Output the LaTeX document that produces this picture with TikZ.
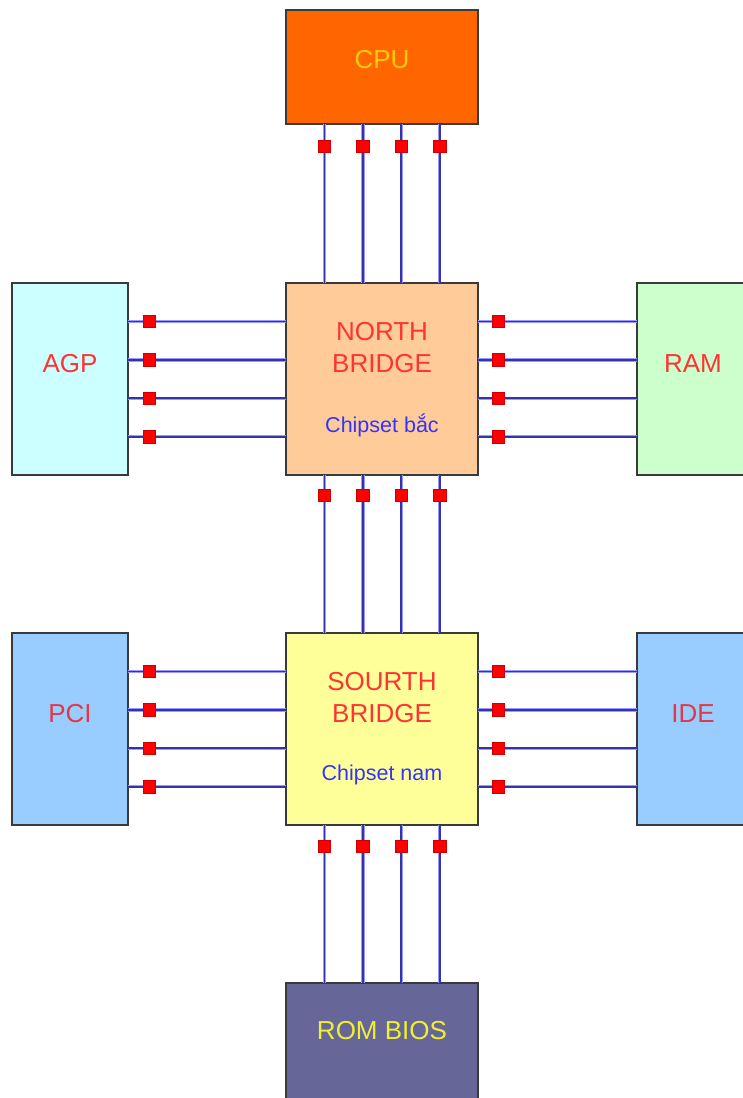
\documentclass[tikz,border=0pt]{standalone}
\usepackage{fontspec}
\setmainfont{Liberation Sans}
\usetikzlibrary{calc}
\definecolor{bord}{HTML}{3A3A3A}
\definecolor{cpuF}{HTML}{FF6600}
\definecolor{nbF}{HTML}{FFCC99}
\definecolor{agpF}{HTML}{CCFFFF}
\definecolor{ramF}{HTML}{CCFFCC}
\definecolor{sbF}{HTML}{FFFF99}
\definecolor{pciF}{HTML}{99CCFF}
\definecolor{romF}{HTML}{666699}
\definecolor{txtY}{HTML}{FFCC00}
\definecolor{txtR}{HTML}{FF3333}
\definecolor{txtR2}{HTML}{E03A4A}
\definecolor{txtB}{HTML}{3333FF}
\definecolor{romT}{HTML}{F0F030}
\definecolor{busD}{HTML}{3333AA}
\definecolor{busL}{HTML}{9999FF}
\definecolor{sqR}{HTML}{FF0000}
\begin{document}
\begin{tikzpicture}[x=1pt,y=-1pt,
  box/.style={draw=bord, line width=2pt, inner sep=0pt, outer sep=0pt, anchor=north west},
  big/.style={font=\fontsize{26}{32}\selectfont, align=center, inner sep=0pt},
  small/.style={font=\fontsize{21.5}{24}\selectfont, inner sep=0pt, text=txtB},
  bus/.style={busD, line width=1.8pt, preaction={draw=busL, line width=3.4pt}},
  sq/.style={fill=sqR, draw=sqR!80!black, line width=0.4pt, minimum size=12.5pt, inner sep=0pt}]
\useasboundingbox (0,0) rectangle (743,1098);
% boxes
\node[box, fill=cpuF, minimum width=192pt, minimum height=114pt] (CPU) at (286,10) {};
\node[box, fill=nbF, minimum width=192pt, minimum height=192pt] (NB) at (286,283) {};
\node[box, fill=agpF, minimum width=116pt, minimum height=192pt] (AGP) at (12,283) {};
\node[box, fill=ramF, minimum width=114pt, minimum height=192pt] (RAM) at (637,283) {};
\node[box, fill=sbF, minimum width=192pt, minimum height=192pt] (SB) at (286,633) {};
\node[box, fill=pciF, minimum width=116pt, minimum height=192pt] (PCI) at (12,633) {};
\node[box, fill=pciF, minimum width=114pt, minimum height=192pt] (IDE) at (637,633) {};
\node[box, fill=romF, minimum width=192pt, minimum height=122pt] (ROM) at (286,983) {};
% labels
\node[big, text=txtY] (tCPU) at (382,60) {CPU};
\node[big, text=txtR] (tNB) at (382,348) {NORTH\\BRIDGE};
\node[small] (tNBc) at (382,425) {Chipset bắc};
\node[big, text=txtR] (tAGP) at (70,364) {AGP};
\node[big, text=txtR] (tRAM) at (693,364) {RAM};
\node[big, text=txtR] (tSB) at (382,698) {SOURTH\\BRIDGE};
\node[small] (tSBc) at (382,775) {Chipset nam};
\node[big, text=txtR2] (tPCI) at (70,714) {PCI};
\node[big, text=txtR2] (tIDE) at (693,714) {IDE};
\node[big, text=romT] (tROM) at (382,1031) {ROM BIOS};
% buses
\foreach \f [count=\i] in {0.2,0.4,0.6,0.8}{
  % vertical
  \draw[bus] ($(CPU.south west)!\f!(CPU.south east)$) -- ($(NB.north west)!\f!(NB.north east)$);
  \draw[bus] ($(NB.south west)!\f!(NB.south east)$) -- ($(SB.north west)!\f!(SB.north east)$);
  \draw[bus] ($(SB.south west)!\f!(SB.south east)$) -- ($(ROM.north west)!\f!(ROM.north east)$);
  % horizontal
  \draw[bus] ($(AGP.north east)!\f!(AGP.south east)$) -- ($(NB.north west)!\f!(NB.south west)$);
  \draw[bus] ($(NB.north east)!\f!(NB.south east)$) -- ($(RAM.north west)!\f!(RAM.south west)$);
  \draw[bus] ($(PCI.north east)!\f!(PCI.south east)$) -- ($(SB.north west)!\f!(SB.south west)$);
  \draw[bus] ($(SB.north east)!\f!(SB.south east)$) -- ($(IDE.north west)!\f!(IDE.south west)$);
  % squares
  \node[sq] (a\i) at ($(CPU.south west)!\f!(CPU.south east)+(0,22)$) {};
  \node[sq] (b\i) at ($(NB.south west)!\f!(NB.south east)+(0,20)$) {};
  \node[sq] (c\i) at ($(SB.south west)!\f!(SB.south east)+(0,21)$) {};
  \node[sq] (d\i) at ($(AGP.north east)!\f!(AGP.south east)+(21,0)$) {};
  \node[sq] (e\i) at ($(NB.north east)!\f!(NB.south east)+(20,0)$) {};
  \node[sq] (f\i) at ($(PCI.north east)!\f!(PCI.south east)+(21,0)$) {};
  \node[sq] (g\i) at ($(SB.north east)!\f!(SB.south east)+(20,0)$) {};
}
\end{tikzpicture}
\end{document}
